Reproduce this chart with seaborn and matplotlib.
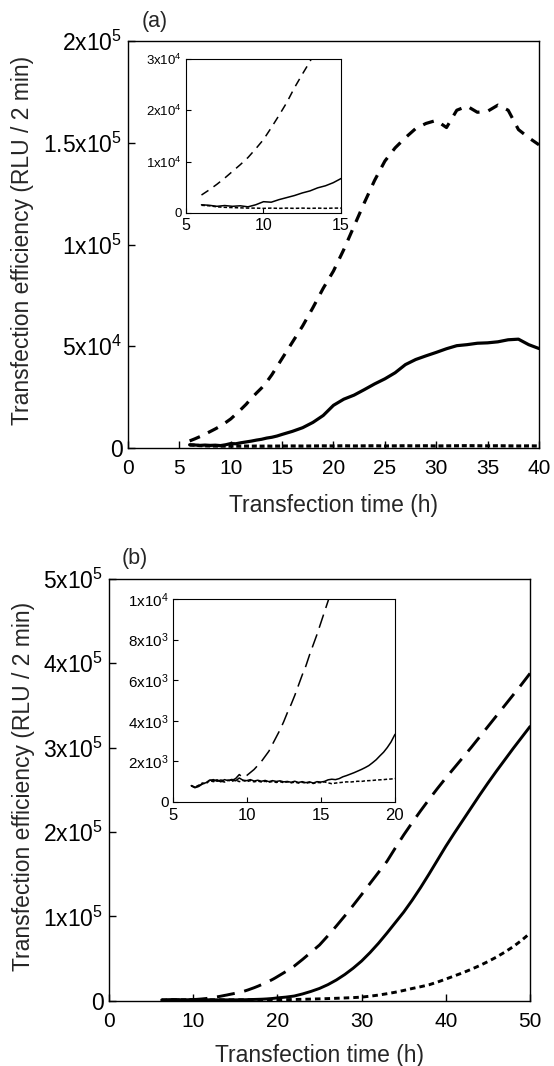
import matplotlib
matplotlib.use('Agg')
import matplotlib.pyplot as plt
import numpy as np
import pandas as pd
import seaborn as sns

# ---------------------------------------------------
# Panel (a) data
# ---------------------------------------------------
time_a = [6, 6.5, 7, 7.5, 8, 8.5, 9, 9.5, 10, 10.5, 11, 11.5, 12, 12.5, 13, 13.5, 14, 14.5, 15,
          16, 17, 18, 19, 20, 21, 22, 23, 24, 25, 26, 27, 28, 29, 30,
          31, 32, 33, 34, 35, 36, 37, 38, 39, 40]
solid_a = [1600, 1500, 1300, 1450, 1300, 1400, 1200, 1600, 2200, 2100, 2600, 3000, 3400, 3900, 4300, 4900, 5300, 5900, 6700,
           8200, 10000, 12600, 16000, 21000, 24000, 26000, 28700, 31500, 34000, 37000, 41000, 43500, 45300, 47000,
           48800, 50300, 50800, 51500, 51700, 52200, 53200, 53500, 50800, 48900]
dashed_a = [3500, 4500, 5600, 6800, 8100, 9400, 10800, 12500, 14300, 16600, 19000, 21500, 24400, 27000, 29500, 32500, 36000, 40000, 44000,
            52000, 60000, 69000, 78500, 87000, 97500, 109000, 120500, 131500, 141000, 147500, 152500, 157000, 159500, 161000,
            157500, 166000, 168000, 165000, 165500, 168500, 166000, 156500, 152500, 149000]
dotted_a = [1500, 1400, 1200, 1100, 1050, 1000, 950, 950, 900, 950, 900, 950, 900, 950, 900, 950, 900, 950, 950,
            1000, 950, 1000, 1050, 1000, 1100, 1000, 1050, 1100, 1000, 1050, 1100, 1050, 1100, 1000,
            1050, 1100, 1150, 1100, 1050, 1100, 1050, 1000, 1050, 1000]

# ---------------------------------------------------
# Panel (b) data
# ---------------------------------------------------
time_b = [6.25, 6.5, 6.75, 7, 7.25, 7.5, 7.75, 8, 8.25, 8.5, 8.75, 9, 9.25, 9.5, 9.75,
          10, 10.25, 10.5, 10.75, 11, 11.25, 11.5, 11.75, 12, 12.25, 12.5, 12.75,
          13, 13.25, 13.5, 13.75, 14, 14.25, 14.5, 14.75, 15, 15.25, 15.5, 15.75,
          16, 16.25, 16.5, 16.75, 17, 17.25, 17.5, 17.75, 18, 18.25, 18.5, 18.75,
          19, 19.25, 19.5, 19.75, 20,
          21, 22, 23, 24, 25, 26, 27, 28, 29, 30, 31, 32, 33, 34, 35,
          36, 37, 38, 39, 40, 41, 42, 43, 44, 45, 46, 47, 48, 49, 50]
solid_b = [800, 700, 760, 880, 950, 1080, 1040, 1090, 990, 1100, 1050, 1110, 1040, 1180, 1070,
           1050, 1100, 1030, 1070, 1020, 1060, 1000, 1050, 1010, 1040, 990, 1010,
           970, 1020, 960, 1000, 950, 990, 930, 1000, 980, 1010, 1090, 1120,
           1100, 1150, 1240, 1300, 1370, 1440, 1520, 1600, 1690, 1790, 1930, 2080,
           2270, 2450, 2680, 2950, 3300,
           4200, 5500, 8000, 11000, 14500, 19000, 24500, 31000, 38500, 47000, 57000, 68000, 80000, 92500, 105000,
           119000, 134000, 150000, 166500, 183000, 198500, 213500, 228500, 243500, 258000, 272000, 285500, 299000, 312000, 325000]
dashed_b = [820, 720, 790, 900, 980, 1060, 1100, 1020, 1080, 1050, 1120, 1060, 1150, 1350, 1200,
            1300, 1450, 1600, 1800, 2000, 2250, 2500, 2850, 3200, 3550, 3950, 4400,
            4800, 5250, 5750, 6250, 6700, 7250, 7750, 8250, 8800, 9350, 9900, 10500,
            11100, 11900, 12700, 13600, 14500, 15400, 16400, 17400, 18500, 19600, 20700, 21800,
            23000, 24300, 25600, 27000, 28500,
            34500, 41000, 49000, 57500, 66000, 77000, 88500, 100500, 113000, 125800, 139000, 152000, 165000, 181000, 196500,
            211000, 225000, 238500, 251500, 264000, 276000, 288000, 300000, 312500, 325000, 337500, 350000, 362500, 375000, 388000]
dotted_b = [780, 740, 820, 930, 900, 1050, 1000, 1060, 1030, 980, 1080, 1010, 1090, 1000, 1060,
            1000, 1050, 990, 1030, 980, 1020, 970, 1010, 960, 1000, 950, 990,
            940, 980, 930, 970, 920, 960, 910, 960, 950, 990, 940, 900,
            930, 950, 970, 990, 980, 1000, 1020, 1010, 1040, 1050, 1060, 1080,
            1090, 1100, 1120, 1130, 1150,
            1250, 1400, 1600, 1850, 2150, 2450, 2800, 3200, 3600, 4200, 5300, 6600, 8200, 10000, 12100,
            14400, 16500, 18800, 22000, 25600, 29300, 33000, 37100, 41500, 46300, 51600, 57500, 64000, 71500, 80000]

# tick values / labels
yticks_a = [0, 5e4, 1e5, 1.5e5, 2e5]
yticklabels_a = ['0', r'$\mathregular{5x10^{4}}$', r'$\mathregular{1x10^{5}}$',
                 r'$\mathregular{1.5x10^{5}}$', r'$\mathregular{2x10^{5}}$']
xticks_a = [0, 5, 10, 15, 20, 25, 30, 35, 40]
yticks_ia = [0, 1e4, 2e4, 3e4]
yticklabels_ia = ['0', r'$\mathregular{1x10^{4}}$', r'$\mathregular{2x10^{4}}$', r'$\mathregular{3x10^{4}}$']
xticks_ia = [5, 10, 15]

yticks_b = [0, 1e5, 2e5, 3e5, 4e5, 5e5]
yticklabels_b = ['0', r'$\mathregular{1x10^{5}}$', r'$\mathregular{2x10^{5}}$', r'$\mathregular{3x10^{5}}$',
                 r'$\mathregular{4x10^{5}}$', r'$\mathregular{5x10^{5}}$']
xticks_b = [0, 10, 20, 30, 40, 50]
yticks_ib = [0, 2e3, 4e3, 6e3, 8e3, 1e4]
yticklabels_ib = ['0', r'$\mathregular{2x10^{3}}$', r'$\mathregular{4x10^{3}}$', r'$\mathregular{6x10^{3}}$',
                  r'$\mathregular{8x10^{3}}$', r'$\mathregular{1x10^{4}}$']
xticks_ib = [5, 10, 15, 20]

xlabel = 'Transfection time (h)'
ylabel = 'Transfection efficiency (RLU / 2 min)'


def long_df(t, solid, dashed, dotted):
    return pd.concat([
        pd.DataFrame({'time': t, 'rlu': solid, 'sample': 'A'}),
        pd.DataFrame({'time': t, 'rlu': dashed, 'sample': 'B'}),
        pd.DataFrame({'time': t, 'rlu': dotted, 'sample': 'C'}),
    ], ignore_index=True)


df_a = long_df(time_a, solid_a, dashed_a, dotted_a)
df_b = long_df(time_b, solid_b, dashed_b, dotted_b)

sns.set_style('ticks')
plt.rcParams['font.family'] = ['Liberation Sans', 'DejaVu Sans']
plt.rcParams['mathtext.fontset'] = 'custom'
plt.rcParams['mathtext.rm'] = 'Liberation Sans'
plt.rcParams['mathtext.it'] = 'Liberation Sans:italic'
plt.rcParams['mathtext.bf'] = 'Liberation Sans:bold'
plt.rcParams['lines.scale_dashes'] = False


def draw(ax, df, dashes, lw):
    sns.lineplot(data=df, x='time', y='rlu', style='sample', dashes=dashes,
                 color='black', linewidth=lw, legend=False, estimator=None,
                 errorbar=None, ax=ax)
    ax.set_xlabel('')
    ax.set_ylabel('')


def frame(ax, lw, xsize, ysize, length, xpad, ypad):
    for s in ax.spines.values():
        s.set_visible(True)
        s.set_linewidth(lw)
        s.set_color('black')
    ax.tick_params(direction='in', length=length, width=lw, colors='black',
                   top=False, right=False)
    ax.tick_params(axis='x', labelsize=xsize, pad=xpad)
    ax.tick_params(axis='y', labelsize=ysize, pad=ypad)


fig = plt.figure(figsize=(5.54, 10.66), dpi=100)
ax_a = fig.add_axes([0.2310, 0.5797, 0.7419, 0.3818])
in_a = fig.add_axes([0.3357, 0.8002, 0.2798, 0.1445])
ax_b = fig.add_axes([0.1968, 0.0613, 0.7599, 0.3956])
in_b = fig.add_axes([0.3117, 0.2477, 0.4007, 0.1904])

# panel (a)
draw(ax_a, df_a, {'A': '', 'B': (8, 6.5), 'C': (3.6, 2)}, 2.3)
ax_a.set_xlim(0, 40)
ax_a.set_ylim(0, 2e5)
ax_a.set_xticks(xticks_a)
ax_a.set_yticks(yticks_a)
ax_a.set_yticklabels(yticklabels_a)
frame(ax_a, 1.0, 15, 16.5, 5, 8, 4)
ax_a.set_xlabel(xlabel, fontsize=16.5, va='center')
ax_a.set_ylabel(ylabel, fontsize=16.5, va='center')
ax_a.xaxis.set_label_coords(0.5, -0.142)
ax_a.yaxis.set_label_coords(-0.2555, 0.511)

draw(in_a, df_a, {'A': '', 'B': (6, 4.5), 'C': (2.5, 1.5)}, 1.1)
in_a.set_xlim(5, 15)
in_a.set_ylim(0, 3e4)
in_a.set_xticks(xticks_ia)
in_a.set_yticks(yticks_ia)
in_a.set_yticklabels(yticklabels_ia)
frame(in_a, 0.8, 11.5, 9.5, 3.5, 3.6, 3)

# panel (b)
draw(ax_b, df_b, {'A': '', 'B': (13, 7), 'C': (4, 2.9)}, 2.1)
ax_b.set_xlim(0, 50)
ax_b.set_ylim(0, 5e5)
ax_b.set_xticks(xticks_b)
ax_b.set_yticks(yticks_b)
ax_b.set_yticklabels(yticklabels_b)
frame(ax_b, 1.0, 15, 16.5, 5, 8, 4)
ax_b.set_xlabel(xlabel, fontsize=16.5, va='center')
ax_b.set_ylabel(ylabel, fontsize=16.5, va='center')
ax_b.xaxis.set_label_coords(0.5, -0.129)
ax_b.yaxis.set_label_coords(-0.2043, 0.507)

draw(in_b, df_b, {'A': '', 'B': (10, 5), 'C': (2.5, 1.5)}, 1.1)
in_b.set_xlim(5, 20)
in_b.set_ylim(0, 1e4)
in_b.set_xticks(xticks_ib)
in_b.set_yticks(yticks_ib)
in_b.set_yticklabels(yticklabels_ib)
frame(in_b, 0.8, 12, 11, 3.5, 4.5, 3)

fig.text(0.2798, 0.9794, '(a)', fontsize=15.5, ha='center', va='center')
fig.text(0.2437, 0.4765, '(b)', fontsize=15.5, ha='center', va='center')

fig.savefig('out.png', dpi=100, facecolor='white')
